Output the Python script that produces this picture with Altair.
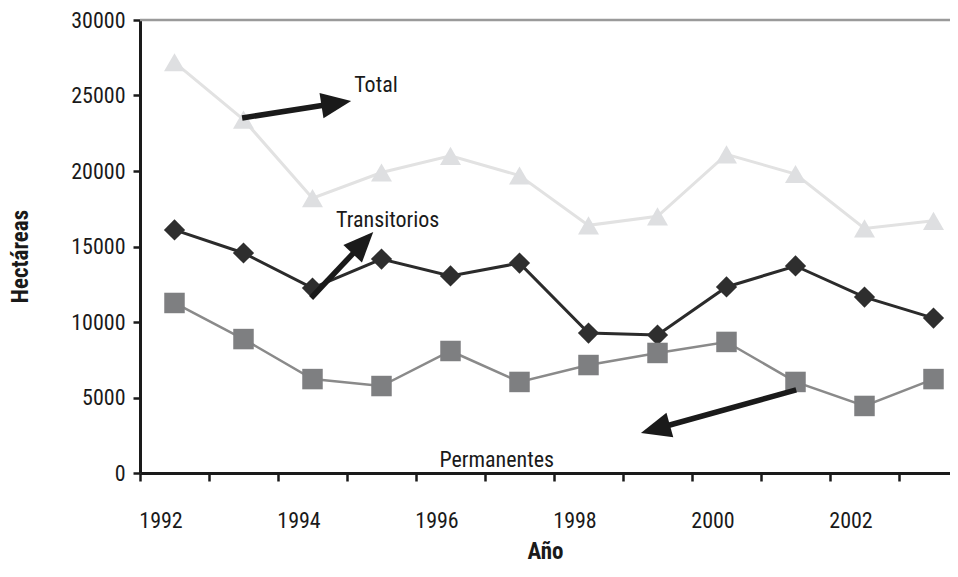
import math
import altair as alt
import pandas as pd

# ---------------- data ----------------
years = list(range(1992, 2004))
total = [27200, 23400, 18200, 19900, 21000, 19700, 16400, 17000, 21100, 19800, 16200, 16700]
transitorios = [16100, 14570, 12250, 14170, 13050, 13900, 9270, 9140, 12320, 13710, 11650, 10260]
permanentes = [11260, 8870, 6220, 5760, 8080, 6030, 7150, 7950, 8680, 6030, 4440, 6220]

y_ticks = [0, 5000, 10000, 15000, 20000, 25000, 30000]

# annotations (data units)
ann_names = ["Total", "Transitorios", "Permanentes"]
ann_x = [1994.92, 1995.09, 1996.67]
ann_y = [25700, 16750, 860]
arrow_x0 = [1992.98, 1993.98, 2001.01]
arrow_y0 = [23510, 11590, 5500]
arrow_x1 = [1994.56, 1994.88, 1998.76]
arrow_y1 = [24640, 15960, 2650]

# ---------------- layout ----------------
W, H = 810, 453
PX_YEAR = 69.0
X0 = 1991.5
X1 = X0 + W / PX_YEAR
YMAX = 30000
PX_VAL = H / YMAX
HEAD = 30

FONT = "Liberation Sans Narrow, Roboto Condensed, Arial Narrow, sans-serif"
INK = "#1a1a1a"

xscale = alt.Scale(domain=[X0, X1], nice=False, zero=False)
yscale = alt.Scale(domain=[0, YMAX], nice=False)

xaxis = alt.Axis(
    values=years, format="d", tickOffset=-34.5, labelOffset=20.5,
    labelExpr="datum.value % 2 == 0 ? datum.label : ''",
    labelFlush=False, labelOverlap=False, labelBound=False,
    tickSize=8, tickWidth=2.5, tickColor=INK, domainColor=INK, domainWidth=3,
    labelPadding=29, labelFont=FONT, labelFontSize=22, labelColor=INK,
    titleFont=FONT, titleFontSize=23, titleFontWeight="bold", titleColor=INK,
    titlePadding=9, grid=False,
)
yaxis = alt.Axis(
    values=y_ticks, format="d", tickSize=7, tickWidth=2.5, tickColor=INK,
    domainColor=INK, domainWidth=3, labelPadding=8, labelFont=FONT,
    labelFontSize=22, labelColor=INK, titleFont=FONT, titleFontSize=23,
    titleFontWeight="bold", titleColor=INK, titlePadding=38, titleY=236,
    grid=False,
)

rows = []
for name, vals in (("Total", total), ("Transitorios", transitorios), ("Permanentes", permanentes)):
    for yr, v in zip(years, vals):
        rows.append({"year": yr, "serie": name, "value": v})
df = pd.DataFrame(rows)

styles = {
    "Total": dict(line="#e2e2e2", lw=3, fill="#dedfe1", shape="triangle-up", size=440),
    "Transitorios": dict(line="#2b2b2b", lw=3, fill="#2e2e2e", shape="diamond", size=450),
    "Permanentes": dict(line="#8a8a8a", lw=2.5, fill="#7e7f81", shape="square", size=420),
}

border = alt.Chart(pd.DataFrame({"v": [YMAX]})).mark_rule(color="#9a9a9a", strokeWidth=2.5).encode(
    y=alt.Y("v:Q", scale=yscale, axis=yaxis, title="Hectáreas")
)

layers = [border]
for name, st in styles.items():
    base = alt.Chart(df).transform_filter(alt.datum.serie == name)
    enc = dict(
        x=alt.X("year:Q", scale=xscale, axis=xaxis, title="Año"),
        y=alt.Y("value:Q", scale=yscale, axis=yaxis, title="Hectáreas"),
    )
    layers.append(base.mark_line(color=st["line"], strokeWidth=st["lw"]).encode(**enc))
    layers.append(
        base.mark_point(shape=st["shape"], filled=True, color=st["fill"], size=st["size"],
                        opacity=1, strokeWidth=0).encode(**enc)
    )

# arrows
arr_rows = []
for i in range(3):
    dxp = (arrow_x1[i] - arrow_x0[i]) * PX_YEAR
    dyp = -(arrow_y1[i] - arrow_y0[i]) * PX_VAL
    L = math.hypot(dxp, dyp)
    f = (L - HEAD / 2) / L
    arr_rows.append({
        "x0": arrow_x0[i], "y0": arrow_y0[i],
        "xe": arrow_x0[i] + f * (arrow_x1[i] - arrow_x0[i]),
        "ye": arrow_y0[i] + f * (arrow_y1[i] - arrow_y0[i]),
        "ang": math.degrees(math.atan2(dyp, dxp)) % 360,
    })
adf = pd.DataFrame(arr_rows)

shafts = alt.Chart(adf).mark_rule(color=INK, strokeWidth=5.5, strokeCap="butt").encode(
    x=alt.X("x0:Q", scale=xscale), y=alt.Y("y0:Q", scale=yscale), x2="xe:Q", y2="ye:Q"
)
heads = alt.Chart(adf).mark_point(
    shape="M1,0L-1,-0.85L-1,0.85Z", filled=True, color=INK, size=HEAD * HEAD, opacity=1, strokeWidth=0
).encode(
    x=alt.X("xe:Q", scale=xscale), y=alt.Y("ye:Q", scale=yscale),
    angle=alt.Angle("ang:Q", scale=None),
)

tdf = pd.DataFrame({"label": ann_names, "x": ann_x, "y": ann_y})
texts = alt.Chart(tdf).mark_text(font=FONT, fontSize=22, color=INK, align="center", baseline="middle").encode(
    x=alt.X("x:Q", scale=xscale), y=alt.Y("y:Q", scale=yscale), text="label:N"
)

layers += [shafts, heads, texts]

chart = alt.layer(*layers).properties(
    width=W, height=H,
    autosize=alt.AutoSizeParams(type="none"),
    padding={"left": 132, "top": 12, "right": 0, "bottom": 95},
    background="white",
).configure_view(stroke=None)

chart.save("out.html", embed_options={"renderer": "svg", "actions": False})
